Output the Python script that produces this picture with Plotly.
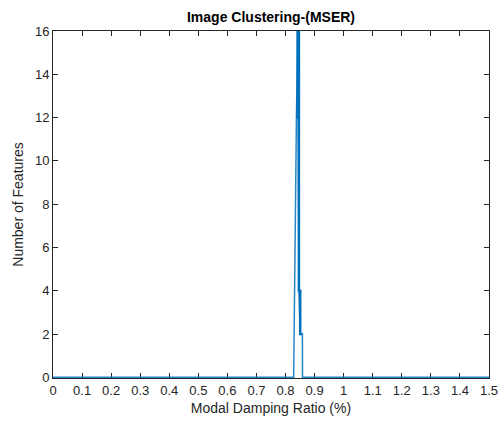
import plotly.graph_objects as go

# Feature counts per damping-ratio bin (stair outline)
bin_left = [0.8375, 0.8415, 0.8460, 0.8505, 0.8580]
bin_count = [12, 16, 4, 2, 2]

# Raw frequency curve over the full damping-ratio range
curve_x = [0.0, 0.828, 0.8375, 0.8415, 0.8425, 0.8460, 0.8505, 0.8580, 0.8585, 1.5]
curve_y = [0, 0, 12, 16, 16, 4, 2, 2, 0, 0]

x_ticks = [round(i * 0.1, 1) for i in range(16)]
x_labels = ["0", "0.1", "0.2", "0.3", "0.4", "0.5", "0.6", "0.7", "0.8", "0.9",
            "1", "1.1", "1.2", "1.3", "1.4", "1.5"]
y_ticks = [0, 2, 4, 6, 8, 10, 12, 14, 16]

blue = "#0072BD"
font = "Liberation Sans, Arial, sans-serif"
axis_col = "#262626"

fig = go.Figure()
fig.add_trace(go.Scatter(x=curve_x, y=curve_y, mode="lines",
                         line=dict(color="rgba(0,114,189,0.85)", width=1.5),
                         hoverinfo="skip", showlegend=False))
fig.add_trace(go.Scatter(x=bin_left, y=bin_count, mode="lines",
                         line=dict(color=blue, width=2.5, shape="hv"),
                         showlegend=False))

axis_common = dict(showgrid=False, zeroline=False, showline=True, linecolor=axis_col,
                   linewidth=1, mirror="ticks", ticks="inside", ticklen=5,
                   tickcolor=axis_col, automargin=False, layer="below traces",
                   tickfont=dict(family=font, size=13, color=axis_col))

fig.update_xaxes(range=[0, 1.5], tickvals=x_ticks, ticktext=x_labels,
                 title=dict(text="Modal Damping Ratio (%)", standoff=6,
                            font=dict(family=font, size=14, color=axis_col)),
                 **axis_common)
# a hair below zero so the baseline of the curve stays visible over the axis
fig.update_yaxes(range=[-0.03, 16], tickvals=y_ticks,
                 title=dict(text="Number of Features", standoff=8,
                            font=dict(family=font, size=14, color=axis_col)),
                 **axis_common)

fig.update_layout(
    width=499, height=423,
    margin=dict(l=53, r=10, t=31, b=45),
    paper_bgcolor="white", plot_bgcolor="white",
    title=dict(text="<b>Image Clustering-(MSER)</b>", x=271 / 499,
               xanchor="center", y=1 - 17 / 423, yanchor="middle",
               font=dict(family=font, size=14, color="black")),
)

fig.write_html("out.html")
